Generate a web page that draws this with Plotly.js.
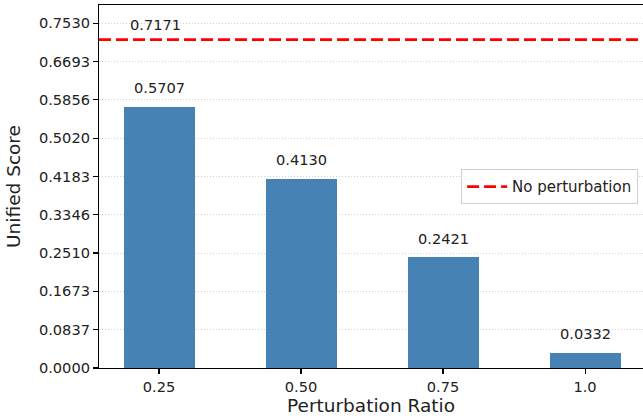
<!DOCTYPE html>
<html>
<head>
<meta charset="utf-8">
<script src="https://cdn.plot.ly/plotly-3.0.1.min.js"></script>
<style>html,body{margin:0;padding:0;background:#fff;}#chart{width:643px;height:419px;}</style>
</head>
<body>
<div id="chart"></div>
<script>
const categories = ['0.25', '0.50', '0.75', '1.0'];
const scores = [0.5707, 0.4130, 0.2421, 0.0332];
const baselineScore = 0.7171;
const baselineName = 'No perturbation';
const yTickValues = [0, 0.0837, 0.1673, 0.2510, 0.3346, 0.4183, 0.5020, 0.5856, 0.6693, 0.7530];
const yTickLabels = yTickValues.map(v => v.toFixed(4));
const xTitle = 'Perturbation Ratio';
const yTitle = 'Unified Score';

const xIdx = categories.map((_, i) => i);
const xRange = [-0.4225, 3.408];
const yRange = [0, 0.7925];
const FONT = 'DejaVu Sans, sans-serif';
const SMALL = 14.6;
const BIG = 18.5;

const traces = [
  {
    type: 'bar', x: xIdx, y: scores, width: 0.5,
    marker: {color: '#4682B4'}, showlegend: false, hoverinfo: 'skip'
  },
  {
    type: 'scatter', mode: 'lines', x: xRange, y: [baselineScore, baselineScore],
    name: baselineName, line: {color: '#ff0000', width: 2.8, dash: '12px,5px'},
    hoverinfo: 'skip'
  }
];

const annotations = scores.map((v, i) => ({
  x: i, y: v, xref: 'x', yref: 'y', text: v.toFixed(4), showarrow: false,
  yanchor: 'bottom', yshift: 8.5, font: {family: FONT, size: SMALL, color: '#222'}
}));
annotations.push({
  x: 0, y: baselineScore, xref: 'x', yref: 'y', text: baselineScore.toFixed(4), showarrow: false,
  yanchor: 'bottom', xshift: -3.5, yshift: 4.5, font: {family: FONT, size: SMALL, color: '#222'}
});

const layout = {
  width: 643, height: 419,
  margin: {l: 99, r: 0, t: 5, b: 51, pad: 0},
  paper_bgcolor: '#fff', plot_bgcolor: '#fff',
  font: {family: FONT, color: '#222'},
  bargap: 0,
  xaxis: {
    range: xRange, tickvals: xIdx, ticktext: categories,
    showgrid: false, zeroline: false, showline: true, mirror: true,
    linecolor: '#000', linewidth: 1.1, ticks: 'outside', ticklen: 5, tickwidth: 1.1, tickcolor: '#000',
    tickfont: {family: FONT, size: SMALL, color: '#222'},
    title: {text: xTitle, font: {family: FONT, size: BIG, color: '#222'}, standoff: 5}
  },
  yaxis: {
    range: yRange, tickvals: yTickValues, ticktext: yTickLabels,
    showgrid: true, gridcolor: '#c4c4c4', gridwidth: 0.8, griddash: '1px,2px',
    zeroline: false, showline: true, linecolor: '#000', linewidth: 1.1,
    ticks: 'outside', ticklen: 5, tickwidth: 1.1, tickcolor: '#000',
    tickfont: {family: FONT, size: SMALL, color: '#222'},
    title: {text: yTitle, font: {family: FONT, size: BIG, color: '#222'}, standoff: 13}
  },
  legend: {
    x: 0.991, xanchor: 'right', y: 0.499, yanchor: 'middle',
    bgcolor: 'rgba(255,255,255,0.9)', bordercolor: '#d0d0d0', borderwidth: 1,
    itemwidth: 40,
    font: {family: FONT, size: 15, color: '#222'}
  },
  annotations: annotations
};

Plotly.newPlot('chart', traces, layout, {displayModeBar: false, staticPlot: true});
</script>
</body>
</html>
